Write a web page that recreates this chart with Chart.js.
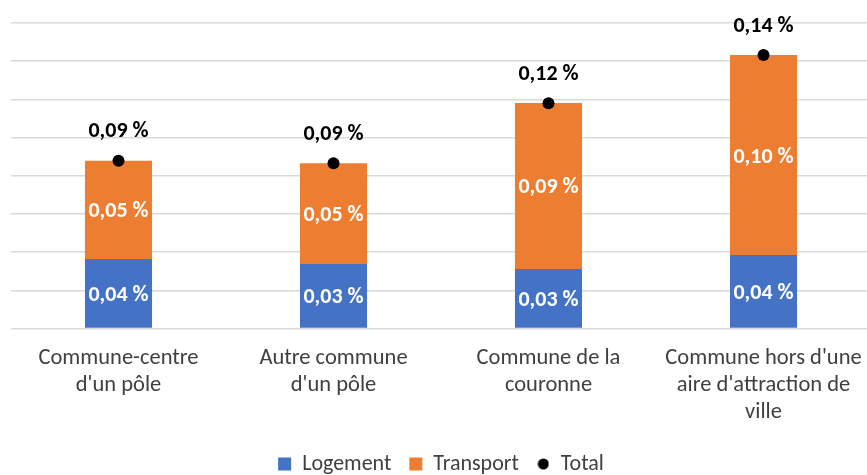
<!DOCTYPE html>
<html>
<head>
<meta charset="utf-8">
<script src="https://cdn.jsdelivr.net/npm/chart.js@4.4.1/dist/chart.umd.min.js"></script>
<style>
  html, body { margin: 0; padding: 0; background: #fff; overflow: hidden; }
  #wrap { position: relative; width: 880px; height: 485px; }
</style>
</head>
<body>
<div id="wrap"><canvas id="c" width="880" height="485"></canvas></div>
<script>
const categories = [
  ["Commune-centre", "d'un pôle"],
  ["Autre commune", "d'un pôle"],
  ["Commune de la", "couronne"],
  ["Commune hors d'une", "aire d'attraction de", "ville"]
];
const seriesNames = ["Logement", "Transport", "Total"];
const logement = [0.0364, 0.0338, 0.0312, 0.0385];
const transport = [0.0515, 0.0527, 0.0869, 0.1047];
const total = [0.0879, 0.0865, 0.118, 0.1432];
const yMax = 0.16;
const yStep = 0.02;

const FONT = "Carlito, Lato, 'Open Sans', sans-serif";
const fmt = v => v.toFixed(2).replace('.', ',') + ' %';

const dot = document.createElement('canvas');
dot.width = 12; dot.height = 12;
{ const g = dot.getContext('2d'); g.fillStyle = '#000'; g.beginPath(); g.arc(6, 6, 5.5, 0, Math.PI * 2); g.fill(); }

const labelPlugin = {
  id: 'valueLabels',
  afterDatasetsDraw(chart) {
    const ctx = chart.ctx;
    ctx.save();
    ctx.font = 'bold 22px ' + FONT;
    ctx.textAlign = 'center';
    ctx.textBaseline = 'middle';
    chart.data.datasets.forEach((ds, i) => {
      const meta = chart.getDatasetMeta(i);
      meta.data.forEach((el, j) => {
        const v = ds.data[j];
        if (meta.type === 'bar') {
          const p = el.getProps(['x', 'y', 'base'], true);
          ctx.fillStyle = '#ffffff';
          ctx.fillText(fmt(v), p.x, (p.y + p.base) / 2 + 2);
        } else {
          const p = el.getProps(['x', 'y'], true);
          ctx.fillStyle = '#000000';
          ctx.fillText(fmt(v), p.x, p.y - 29);
        }
      });
    });
    ctx.restore();
  }
};

new Chart(document.getElementById('c'), {
  data: {
    labels: categories,
    datasets: [
      { type: 'bar', label: seriesNames[0], data: logement, backgroundColor: '#4472c4', stack: 's', order: 1, pointStyle: 'rect',
        categoryPercentage: 1, barPercentage: 0.312 },
      { type: 'bar', label: seriesNames[1], data: transport, backgroundColor: '#ed7d31', stack: 's', order: 1, pointStyle: 'rect',
        categoryPercentage: 1, barPercentage: 0.312 },
      { type: 'line', label: seriesNames[2], data: total, showLine: false, stack: 't', order: 0,
        pointRadius: 6, pointHoverRadius: 6, pointStyle: 'circle', backgroundColor: '#000', borderColor: '#000', borderWidth: 0 }
    ]
  },
  options: {
    responsive: false,
    animation: false,
    events: [],
    layout: { padding: { left: 11, right: 9, top: 23, bottom: 0 } },
    scales: {
      x: {
        stacked: true,
        offset: true,
        grid: { display: false, drawTicks: false },
        border: { display: false },
        ticks: { color: '#404040', padding: 16, maxRotation: 0, autoSkip: false,
                 font: { family: FONT, size: 22.5, lineHeight: 1.2 } },
        afterFit: s => { s.height = 106.5; }
      },
      y: {
        stacked: true,
        min: 0, max: yMax,
        ticks: { display: false, stepSize: yStep },
        grid: { color: '#d9d9d9', lineWidth: 1.5, drawTicks: false },
        border: { display: false }
      }
    },
    plugins: {
      tooltip: { enabled: false },
      legend: {
        position: 'bottom',
        labels: {
          usePointStyle: true,
          boxWidth: 13, boxHeight: 13,
          padding: 18,
          color: '#404040',
          font: { family: FONT, size: 22 },
          sort: (a, b) => a.datasetIndex - b.datasetIndex,
          generateLabels: chart => {
            const items = Chart.defaults.plugins.legend.labels.generateLabels(chart);
            items.forEach(it => { if (it.datasetIndex === 2) it.pointStyle = dot; });
            return items;
          }
        }
      }
    }
  },
  plugins: [labelPlugin]
});
</script>
</body>
</html>
